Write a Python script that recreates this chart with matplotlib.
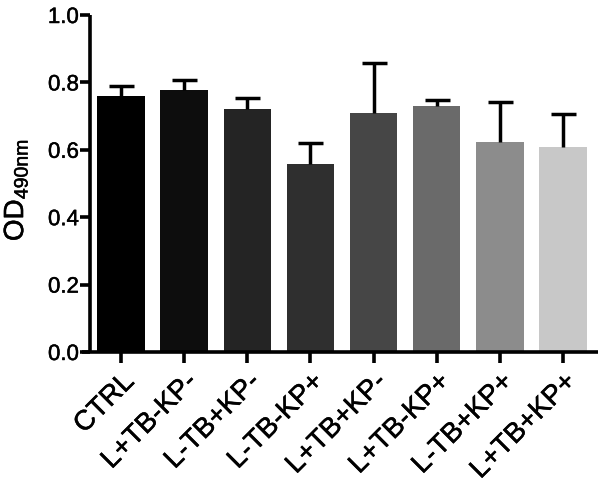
import matplotlib
matplotlib.use("Agg")
import matplotlib.pyplot as plt
import matplotlib.patheffects as pe
import numpy as np

categories = ["CTRL", "L+TB-KP-", "L-TB+KP-", "L-TB-KP+", "L+TB+KP-", "L+TB-KP+", "L-TB+KP+", "L+TB+KP+"]
means = [0.760, 0.778, 0.722, 0.557, 0.708, 0.730, 0.623, 0.607]
errors = [0.030, 0.030, 0.032, 0.062, 0.150, 0.018, 0.120, 0.100]
colors = ["#000000", "#0d0d0d", "#242424", "#2f2f2f", "#464646", "#6a6a6a", "#8c8c8c", "#c8c8c8"]
yticks = [0.0, 0.2, 0.4, 0.6, 0.8, 1.0]

plt.rcParams['font.family'] = ['Liberation Sans', 'DejaVu Sans']
thick = [pe.withStroke(linewidth=0.35, foreground='black')]

fig = plt.figure(figsize=(6.0, 4.84), dpi=100)
W, H = 600, 484
left_px, right_px = 82, 598
top_px, bottom_px = 15, 352
ax = fig.add_axes([left_px / W, 1 - bottom_px / H, (right_px - left_px) / W, (bottom_px - top_px) / H])

x = np.arange(len(categories))
ax.bar(x, means, width=0.75, color=colors, edgecolor='none', zorder=2)
eb = ax.errorbar(x, means, yerr=[np.zeros(len(errors)), errors], fmt='none',
                 ecolor='black', elinewidth=2.5, capsize=9, capthick=2.5, zorder=3)
caplines = eb[1]
if len(caplines) == 2:
    caplines[0].set_visible(False)

spacing = 63.14
c0 = 121
ax.set_xlim((left_px - c0) / spacing, (right_px - c0) / spacing)
ax.set_ylim(0, 1.0)

ax.spines['top'].set_visible(False)
ax.spines['right'].set_visible(False)
ax.spines['left'].set_position(('data', (90 - c0) / spacing))
ax.spines['left'].set_bounds(0, 1.0)
for s in ['left', 'bottom']:
    ax.spines[s].set_linewidth(2.6)
    ax.spines[s].set_capstyle('butt')

ax.set_yticks(yticks)
ax.set_yticklabels([f"{v:.1f}" for v in yticks], fontsize=16)
ax.tick_params(axis='y', direction='out', length=7, width=2.6, pad=1)
ax.set_xticks(x)
ax.set_xticklabels(categories, fontsize=20, rotation=45, ha='right', rotation_mode='anchor')
ax.tick_params(axis='x', direction='out', length=8, width=2.6, pad=4)
for lab in ax.get_yticklabels() + ax.get_xticklabels():
    lab.set_path_effects(thick)

fig.text(16 / W, 1 - 190 / H, r"OD$_{\mathregular{490nm}}$", rotation=90, fontsize=20,
         ha='center', va='center', path_effects=thick)

fig.savefig("out.png", dpi=100)
